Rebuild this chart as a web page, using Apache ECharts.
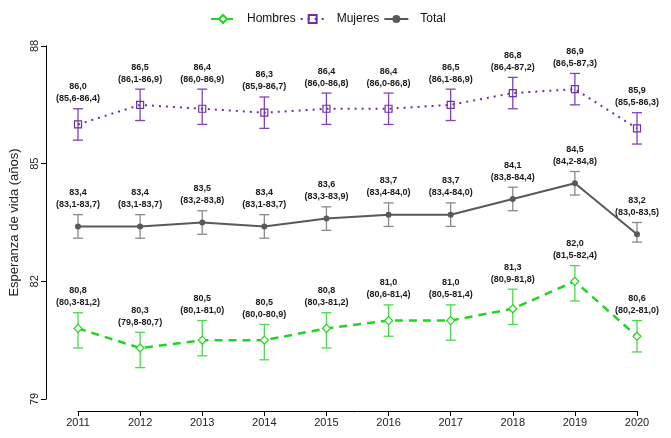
<!DOCTYPE html>
<html>
<head>
<meta charset="utf-8">
<script src="https://cdn.jsdelivr.net/npm/echarts@6/dist/echarts.min.js"></script>
<style>html,body{margin:0;padding:0;background:#fff}#c{width:671px;height:438px}</style>
</head>
<body>
<div id="c"></div>
<script>
var years = ['2011','2012','2013','2014','2015','2016','2017','2018','2019','2020'];
var yTicks = [79, 82, 85, 88];

var hombres    = [80.8, 80.3, 80.5, 80.5, 80.8, 81.0, 81.0, 81.3, 82.0, 80.6];
var hombresLo  = [80.3, 79.8, 80.1, 80.0, 80.3, 80.6, 80.5, 80.9, 81.5, 80.2];
var hombresHi  = [81.2, 80.7, 81.0, 80.9, 81.2, 81.4, 81.4, 81.8, 82.4, 81.0];

var mujeres    = [86.0, 86.5, 86.4, 86.3, 86.4, 86.4, 86.5, 86.8, 86.9, 85.9];
var mujeresLo  = [85.6, 86.1, 86.0, 85.9, 86.0, 86.0, 86.1, 86.4, 86.5, 85.5];
var mujeresHi  = [86.4, 86.9, 86.9, 86.7, 86.8, 86.8, 86.9, 87.2, 87.3, 86.3];

var total      = [83.4, 83.4, 83.5, 83.4, 83.6, 83.7, 83.7, 84.1, 84.5, 83.2];
var totalLo    = [83.1, 83.1, 83.2, 83.1, 83.3, 83.4, 83.4, 83.8, 84.2, 83.0];
var totalHi    = [83.7, 83.7, 83.8, 83.7, 83.9, 84.0, 84.0, 84.4, 84.8, 83.5];

function fmt(v){ return v.toFixed(1).replace('.', ','); }

function errData(vals, lo, hi){
  return vals.map(function(v, i){
    return [i, v, lo[i], hi[i], fmt(v) + '\n(' + fmt(lo[i]) + '-' + fmt(hi[i]) + ')'];
  });
}

function errSeries(name, vals, lo, hi, color){
  var rows = errData(vals, lo, hi);
  return {
    type: 'custom',
    name: name + ' IC',
    silent: true,
    clip: false,
    z: 1,
    data: rows,
    renderItem: function(params, api){
      var x = api.value(0);
      var pLo = api.coord([x, api.value(2)]);
      var pHi = api.coord([x, api.value(3)]);
      var w = 5;
      var st = { stroke: color, lineWidth: 1.3 };
      var d = params.dataIndex;
      return {
        type: 'group',
        children: [
          { type: 'line', shape: { x1: pLo[0], y1: pLo[1], x2: pHi[0], y2: pHi[1] }, style: st },
          { type: 'line', shape: { x1: pLo[0]-w, y1: pLo[1], x2: pLo[0]+w, y2: pLo[1] }, style: st },
          { type: 'line', shape: { x1: pHi[0]-w, y1: pHi[1], x2: pHi[0]+w, y2: pHi[1] }, style: st },
          { type: 'text', x: pHi[0], y: pHi[1] - 4,
            style: { text: rows[d][4], fill: '#1a1a1a', font: 'bold 9px "Liberation Sans", Arial, sans-serif',
                     align: 'center', verticalAlign: 'bottom', lineHeight: 12 } }
        ]
      };
    }
  };
}

var chart = echarts.init(document.getElementById('c'), null, { renderer: 'canvas' });
chart.setOption({
  animation: false,
  backgroundColor: '#ffffff',
  textStyle: { fontFamily: '"Liberation Sans", Arial, sans-serif' },
  legend: {
    top: 8,
    left: 205,
    itemWidth: 24,
    itemHeight: 10,
    itemGap: 4,
    textStyle: { fontSize: 12, color: '#111', padding: [0, 0, 0, 7] },
    data: ['Hombres', 'Mujeres', 'Total']
  },
  grid: { left: 78, right: 34, top: 46, bottom: 39 },
  xAxis: {
    type: 'category',
    data: years,
    boundaryGap: false,
    offset: 12,
    axisLine: { show: true, lineStyle: { color: '#000', width: 1 } },
    axisTick: { show: true, length: 5, alignWithLabel: true, lineStyle: { color: '#000' } },
    axisLabel: { fontSize: 11, color: '#222', margin: 6 },
    splitLine: { show: false }
  },
  yAxis: {
    type: 'value',
    min: yTicks[0],
    max: yTicks[yTicks.length-1],
    interval: 3,
    offset: 32,
    name: 'Esperanza de vida (años)',
    nameLocation: 'middle',
    nameGap: 22,
    nameRotate: 90,
    nameTextStyle: { fontSize: 13, color: '#222' },
    axisLine: { show: true, lineStyle: { color: '#000', width: 1 } },
    axisTick: { show: true, length: 5, lineStyle: { color: '#000' } },
    axisLabel: { fontSize: 11, color: '#222', rotate: 90, margin: 6 },
    splitLine: { show: false }
  },
  series: [
    errSeries('Hombres', hombres, hombresLo, hombresHi, '#4fd84f'),
    errSeries('Mujeres', mujeres, mujeresLo, mujeresHi, '#7d45b8'),
    errSeries('Total', total, totalLo, totalHi, '#8a8a8a'),
    {
      name: 'Hombres', type: 'line', data: hombres, clip: false, z: 3,
      symbol: 'diamond', symbolSize: 8,
      itemStyle: { color: '#ffffff', borderColor: '#22d422', borderWidth: 1.2 },
      lineStyle: { color: '#22d422', width: 2.5, type: [8, 6] },
      color: '#22d422'
    },
    {
      name: 'Mujeres', type: 'line', data: mujeres, clip: false, z: 3,
      symbol: 'rect', symbolSize: 7,
      itemStyle: { color: 'rgba(255,255,255,0)', borderColor: '#7030a0', borderWidth: 1.2 },
      lineStyle: { color: '#7030a0', width: 2, type: [2, 5], cap: 'butt' },
      color: '#7030a0'
    },
    {
      name: 'Total', type: 'line', data: total, clip: false, z: 3,
      symbol: 'circle', symbolSize: 6,
      itemStyle: { color: '#595959' },
      lineStyle: { color: '#595959', width: 2 },
      color: '#595959'
    }
  ]
});
</script>
</body>
</html>
